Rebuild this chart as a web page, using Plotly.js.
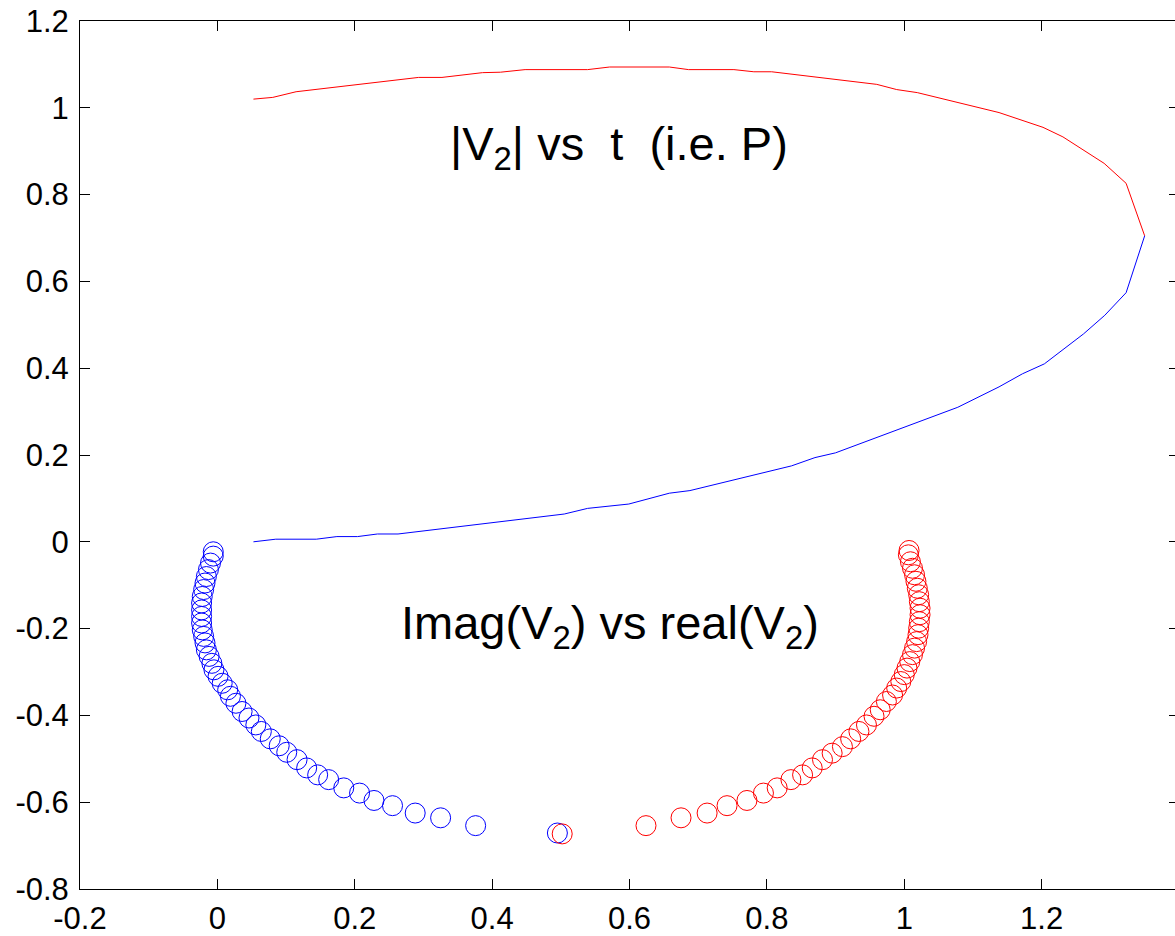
<!DOCTYPE html>
<html>
<head>
<meta charset="utf-8">
<script src="https://cdn.plot.ly/plotly-3.0.1.min.js"></script>
<style>
html, body { margin: 0; padding: 0; overflow: hidden; background: #fff; }
#chart { width: 1180px; height: 936px; }
</style>
</head>
<body>
<div id="chart"></div>
<script>
// |V2| vs t : upper branch (red line)
const upperT = [0.0525, 0.0807, 0.1146, 0.293, 0.327, 0.386, 0.412, 0.448, 0.539, 0.571, 0.658, 0.686, 0.752, 0.781, 0.807, 0.960, 0.989, 1.019, 1.138, 1.202, 1.231, 1.291, 1.323, 1.350];
const upperV = [1.020, 1.024, 1.037, 1.070, 1.070, 1.081, 1.082, 1.088, 1.088, 1.094, 1.094, 1.088, 1.088, 1.083, 1.083, 1.054, 1.042, 1.035, 0.989, 0.955, 0.933, 0.872, 0.826, 0.705];

// |V2| vs t : lower branch (blue line)
const lowerT = [0.0525, 0.085, 0.144, 0.174, 0.204, 0.233, 0.263, 0.323, 0.382, 0.441, 0.505, 0.539, 0.599, 0.658, 0.688, 0.836, 0.870, 0.900, 1.011, 1.078, 1.138, 1.172, 1.204, 1.261, 1.292, 1.323, 1.350];
const lowerV = [0.000, 0.006, 0.006, 0.012, 0.012, 0.018, 0.018, 0.029, 0.041, 0.052, 0.064, 0.077, 0.087, 0.112, 0.118, 0.175, 0.194, 0.205, 0.271, 0.310, 0.357, 0.387, 0.410, 0.479, 0.522, 0.574, 0.705];

// Imag(V2) vs real(V2) : blue circles
const blueRe = [-0.006, -0.006, -0.010, -0.013, -0.016, -0.018, -0.020, -0.022, -0.023, -0.023, -0.023, -0.023, -0.022, -0.020, -0.018, -0.016, -0.012, -0.008, -0.005, 0.001, 0.007, 0.015, 0.019, 0.027, 0.036, 0.046, 0.056, 0.064, 0.077, 0.090, 0.101, 0.116, 0.130, 0.146, 0.162, 0.184, 0.207, 0.228, 0.255, 0.288, 0.325, 0.376, 0.495];
const blueIm = [-0.023, -0.033, -0.049, -0.064, -0.080, -0.095, -0.110, -0.126, -0.141, -0.157, -0.172, -0.187, -0.203, -0.218, -0.233, -0.249, -0.264, -0.280, -0.295, -0.310, -0.326, -0.341, -0.356, -0.372, -0.391, -0.406, -0.422, -0.437, -0.454, -0.470, -0.485, -0.502, -0.521, -0.537, -0.548, -0.567, -0.579, -0.596, -0.608, -0.625, -0.636, -0.654, -0.671];

// Imag(V2) vs real(V2) : red circles
const redRe = [1.007, 1.006, 1.009, 1.012, 1.015, 1.017, 1.019, 1.021, 1.022, 1.023, 1.023, 1.022, 1.021, 1.020, 1.018, 1.015, 1.012, 1.008, 1.004, 1.000, 0.995, 0.989, 0.983, 0.974, 0.965, 0.956, 0.945, 0.934, 0.922, 0.910, 0.895, 0.881, 0.866, 0.852, 0.835, 0.815, 0.795, 0.771, 0.742, 0.713, 0.675, 0.624, 0.502];
const redIm = [-0.020, -0.030, -0.046, -0.061, -0.076, -0.091, -0.107, -0.122, -0.138, -0.153, -0.168, -0.184, -0.199, -0.214, -0.230, -0.245, -0.260, -0.276, -0.291, -0.306, -0.322, -0.337, -0.353, -0.368, -0.387, -0.402, -0.422, -0.437, -0.454, -0.472, -0.487, -0.502, -0.521, -0.537, -0.548, -0.567, -0.579, -0.596, -0.608, -0.625, -0.636, -0.654, -0.673];

// Tick labels
const xTickVals = [-0.2, 0, 0.2, 0.4, 0.6, 0.8, 1, 1.2, 1.4];
const xTickText = ['-0.2', '0', '0.2', '0.4', '0.6', '0.8', '1', '1.2', '1.4'];
const yTickVals = [-0.8, -0.6, -0.4, -0.2, 0, 0.2, 0.4, 0.6, 0.8, 1, 1.2];
const yTickText = ['-0.8', '-0.6', '-0.4', '-0.2', '0', '0.2', '0.4', '0.6', '0.8', '1', '1.2'];

// Annotation texts
const label1 = '|V<sub>2</sub>| vs\u00A0\u00A0t\u00A0\u00A0(i.e. P)';
const label2 = 'Imag(V<sub>2</sub>) vs real(V<sub>2</sub>)';

const FONT = 'Arial, "Liberation Sans", Helvetica, sans-serif';

const traces = [
  { x: upperT, y: upperV, mode: 'lines', line: { color: '#ff0000', width: 1 }, hoverinfo: 'skip' },
  { x: lowerT, y: lowerV, mode: 'lines', line: { color: '#0000ff', width: 1 }, hoverinfo: 'skip' },
  { x: blueRe, y: blueIm, mode: 'markers', marker: { symbol: 'circle-open', size: 20, color: '#0000ff', line: { width: 1 } }, hoverinfo: 'skip' },
  { x: redRe, y: redIm, mode: 'markers', marker: { symbol: 'circle-open', size: 20, color: '#ff0000', line: { width: 1 } }, hoverinfo: 'skip' }
];

const axisCommon = {
  showgrid: false, zeroline: false, showline: true, linecolor: '#000', linewidth: 1,
  mirror: 'ticks', ticks: 'inside', ticklen: 10, tickwidth: 1, tickcolor: '#000',
  tickmode: 'array', tickfont: { family: FONT, size: 31, color: '#000' }
};

const layout = {
  width: 1180, height: 936,
  margin: { l: 80, r: 1, t: 21, b: 47 },
  paper_bgcolor: '#fff', plot_bgcolor: '#fff',
  showlegend: false,
  xaxis: Object.assign({}, axisCommon, { range: [-0.2, 1.4], tickvals: xTickVals, ticktext: xTickText, ticklabelstandoff: 2 }),
  yaxis: Object.assign({}, axisCommon, { range: [-0.8, 1.2], tickvals: yTickVals, ticktext: yTickText, ticklabelstandoff: 4 }),
  annotations: [
    { x: 0.585, y: 0.91, xref: 'x', yref: 'y', text: label1, showarrow: false, xanchor: 'center', yanchor: 'middle', font: { family: FONT, size: 47, color: '#000' } },
    { x: 0.571, y: -0.195, xref: 'x', yref: 'y', text: label2, showarrow: false, xanchor: 'center', yanchor: 'middle', font: { family: FONT, size: 47, color: '#000' } }
  ]
};

Plotly.newPlot('chart', traces, layout, { displayModeBar: false, staticPlot: true });
</script>
</body>
</html>
